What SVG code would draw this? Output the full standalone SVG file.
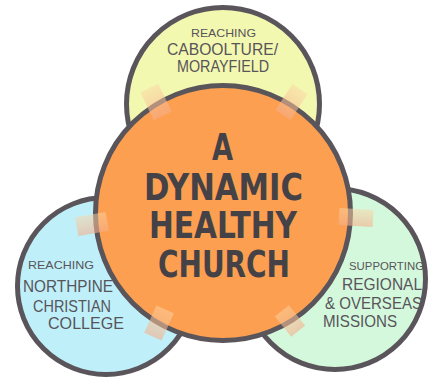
<svg xmlns="http://www.w3.org/2000/svg" width="428" height="379" viewBox="0 0 428 379">
<defs>
<style>
.ring{stroke:#5a555a;stroke-width:5}
.sm{font-family:"Liberation Sans","DejaVu Sans",sans-serif;font-size:11px;fill:#58545a}
.lg{font-family:"Liberation Sans","DejaVu Sans",sans-serif;font-size:17px;fill:#58545a}
.big{font-family:"Liberation Sans Narrow","DejaVu Sans Condensed","Liberation Sans",sans-serif;font-weight:bold;font-size:37px;fill:#444246}
.tape{fill:url(#tapeGrad)}
</style>
<linearGradient id="tapeGrad" x1="0" y1="0" x2="0" y2="1">
<stop offset="0" stop-color="#fbd6a6" stop-opacity="0.5"/>
<stop offset="1" stop-color="#f6ad8a" stop-opacity="0.6"/>
</linearGradient>
</defs>
<g id="yellow">
<circle class="ring" cx="223" cy="104" r="96.5" fill="#f3f8b0"/>
<text class="sm" x="223.5" y="37" text-anchor="middle" textLength="65" lengthAdjust="spacingAndGlyphs">REACHING</text>
<text class="lg" x="222.5" y="55" text-anchor="middle" textLength="111" lengthAdjust="spacingAndGlyphs">CABOOLTURE/</text>
<text class="lg" x="223" y="71.5" text-anchor="middle" textLength="92" lengthAdjust="spacingAndGlyphs">MORAYFIELD</text>
</g>
<g id="blue">
<circle class="ring" cx="106" cy="286" r="88.5" fill="#bff0f9"/>
<text class="sm" x="28" y="269" textLength="66" lengthAdjust="spacingAndGlyphs">REACHING</text>
<text class="lg" x="23" y="292" textLength="90" lengthAdjust="spacingAndGlyphs">NORTHPINE</text>
<text class="lg" x="33" y="311.5" textLength="78" lengthAdjust="spacingAndGlyphs">CHRISTIAN</text>
<text class="lg" x="48" y="328.5" textLength="76" lengthAdjust="spacingAndGlyphs">COLLEGE</text>
</g>
<g id="green">
<circle class="ring" cx="335" cy="279" r="90.5" fill="#d4f8dc"/>
<text class="sm" x="349" y="270" textLength="75" lengthAdjust="spacingAndGlyphs">SUPPORTING</text>
<text class="lg" x="342" y="290" textLength="80" lengthAdjust="spacingAndGlyphs">REGIONAL</text>
<text class="lg" x="325" y="308.5" textLength="97" lengthAdjust="spacingAndGlyphs">&amp; OVERSEAS</text>
<text class="lg" x="323" y="327" textLength="74" lengthAdjust="spacingAndGlyphs">MISSIONS</text>
</g>
<g id="center">
<circle class="ring" cx="223" cy="213" r="127.5" fill="#fc9f50"/>
<text class="big" x="222.5" y="160" text-anchor="middle" textLength="21" lengthAdjust="spacingAndGlyphs">A</text>
<text class="big" x="223.5" y="200" text-anchor="middle" textLength="159" lengthAdjust="spacingAndGlyphs">DYNAMIC</text>
<text class="big" x="223" y="238" text-anchor="middle" textLength="148" lengthAdjust="spacingAndGlyphs">HEALTHY</text>
<text class="big" x="224" y="277" text-anchor="middle" textLength="132" lengthAdjust="spacingAndGlyphs">CHURCH</text>
</g>
<g id="connectors">
<rect class="tape" x="-10" y="-15.5" width="20" height="31" transform="translate(156 102) rotate(-26)"/>
<rect class="tape" x="-9" y="-15.5" width="18" height="31" transform="translate(291.5 102) rotate(33)"/>
<rect class="tape" x="-15.5" y="-9.5" width="31" height="19" transform="translate(92 224) rotate(-10)"/>
<rect class="tape" x="-17" y="-8.5" width="34" height="17" transform="translate(356 217.5) rotate(3)"/>
<rect class="tape" x="-9.5" y="-15" width="19" height="30" transform="translate(159 323) rotate(24)"/>
<rect class="tape" x="-9" y="-13" width="18" height="26" transform="translate(290 321) rotate(-39)"/>
</g>
</svg>
